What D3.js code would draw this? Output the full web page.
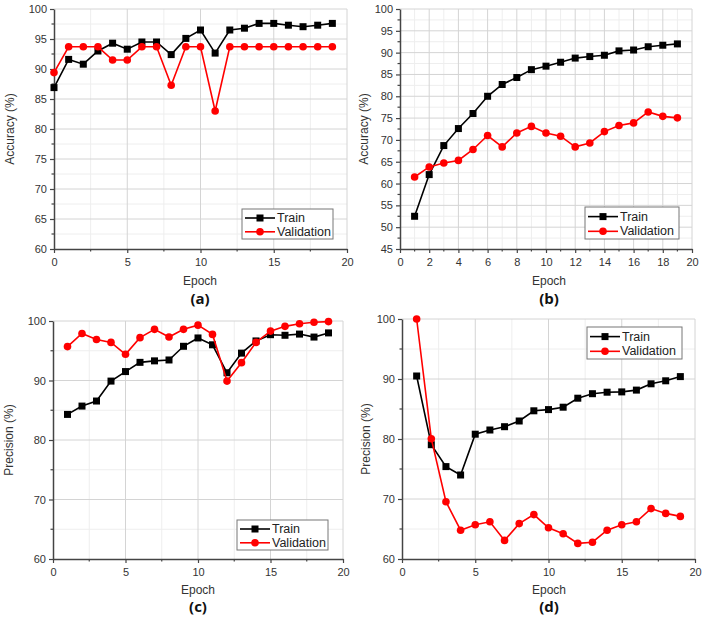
<!DOCTYPE html>
<html><head><meta charset="utf-8">
<script src="https://cdn.jsdelivr.net/npm/d3@7"></script>
<style>
body{margin:0;background:#fff}
text{font-family:"Liberation Sans",Arial,sans-serif}
</style>
</head><body>
<svg id="chart" width="704" height="618"></svg>
<script>
// ---------- data ----------
const epochsA = [0,1,2,3,4,5,6,7,8,9,10,11,12,13,14,15,16,17,18,19];
const trainAccA = [86.9,91.6,90.8,93.0,94.3,93.3,94.5,94.5,92.4,95.1,96.5,92.65,96.5,96.8,97.6,97.6,97.3,97.05,97.3,97.6];
const valAccA   = [89.4,93.7,93.7,93.7,91.5,91.5,93.7,93.7,87.3,93.7,93.7,83.0,93.7,93.7,93.7,93.7,93.7,93.7,93.7,93.7];

const epochsB = [1,2,3,4,5,6,7,8,9,10,11,12,13,14,15,16,17,18,19];
const trainAccB = [52.5,62.05,68.7,72.6,76.05,80.0,82.7,84.3,86.1,86.9,87.8,88.75,89.1,89.4,90.4,90.6,91.35,91.7,92.0];
const valAccB   = [61.5,63.8,64.7,65.3,67.8,71.0,68.4,71.6,73.1,71.6,70.85,68.4,69.3,71.9,73.3,73.9,76.4,75.4,75.05];

const epochsC = [1,2,3,4,5,6,7,8,9,10,11,12,13,14,15,16,17,18,19];
const trainPrecC = [84.3,85.7,86.55,89.9,91.5,93.05,93.3,93.45,95.75,97.15,96.0,91.3,94.6,96.65,97.7,97.6,97.8,97.3,98.0];
const valPrecC   = [95.7,97.9,96.9,96.4,94.4,97.2,98.6,97.3,98.6,99.3,97.75,89.9,93.0,96.4,98.3,99.1,99.55,99.8,99.9];

const epochsD = [1,2,3,4,5,6,7,8,9,10,11,12,13,14,15,16,17,18,19];
const trainPrecD = [90.5,79.05,75.4,74.0,80.8,81.5,82.05,83.0,84.7,84.9,85.3,86.8,87.55,87.8,87.85,88.15,89.2,89.7,90.4];
const valPrecD   = [100,80.05,69.55,64.8,65.7,66.2,63.1,65.9,67.4,65.2,64.2,62.6,62.8,64.8,65.7,66.2,68.4,67.6,67.1];

const seriesNames = ["Train","Validation"];
const yLabels = ["Accuracy (%)","Accuracy (%)","Precision (%)","Precision (%)"];
const xLabel = "Epoch";
const panelLabels = ["(a)","(b)","(c)","(d)"];

// ---------- layout ----------
const panels = [
  {x:epochsA, tr:trainAccA, va:valAccA, L:54, R:347, T:9, B:249, xd:[0,20], xs:5, xm:2.5, yd:[60,100], ys:5, ym:2.5,
   leg:{x:242,y:209,w:91,h:30}, ylx:10, ex:200, ey:281, py:298},
  {x:epochsB, tr:trainAccB, va:valAccB, L:400, R:692, T:9, B:249, xd:[0,20], xs:2, xm:1, yd:[45,100], ys:5, ym:2.5,
   leg:{x:585,y:207,w:94,h:32}, ylx:364, ex:549, ey:281, py:298},
  {x:epochsC, tr:trainPrecC, va:valPrecC, L:53, R:343, T:321, B:559, xd:[0,20], xs:5, xm:2.5, yd:[60,100], ys:10, ym:5,
   leg:{x:237,y:520,w:91,h:30}, ylx:9, ex:198, ey:590, py:606},
  {x:epochsD, tr:trainPrecD, va:valPrecD, L:402, R:695, T:319, B:559, xd:[0,20], xs:5, xm:2.5, yd:[60,100], ys:10, ym:5,
   leg:{x:587,y:327,w:95,h:32}, ylx:366, ex:549, ey:590, py:606}
];

const svg = d3.select("#chart");
const colors = ["#000000","#ff0000"];

panels.forEach((p,i)=>{
  const xs = d3.scaleLinear().domain(p.xd).range([p.L,p.R]);
  const ys = d3.scaleLinear().domain(p.yd).range([p.B,p.T]);
  const g = svg.append("g");

  const xMaj = d3.range(p.xd[0], p.xd[1]+1e-9, p.xs);
  const xMin = d3.range(p.xd[0], p.xd[1]+1e-9, p.xm).filter(v=>!xMaj.some(m=>Math.abs(m-v)<1e-9));
  const yMaj = d3.range(p.yd[0], p.yd[1]+1e-9, p.ys);
  const yMin = d3.range(p.yd[0], p.yd[1]+1e-9, p.ym).filter(v=>!yMaj.some(m=>Math.abs(m-v)<1e-9));

  // minor grid
  g.selectAll(".gmx").data(xMin).join("line").attr("x1",d=>xs(d)).attr("x2",d=>xs(d)).attr("y1",p.T).attr("y2",p.B)
    .attr("stroke","#eeeeee").attr("stroke-width",1);
  g.selectAll(".gmy").data(yMin).join("line").attr("y1",d=>ys(d)).attr("y2",d=>ys(d)).attr("x1",p.L).attr("x2",p.R)
    .attr("stroke","#eeeeee").attr("stroke-width",1);
  // major grid
  g.selectAll(".gMx").data(xMaj.filter(v=>v>p.xd[0])).join("line").attr("x1",d=>xs(d)).attr("x2",d=>xs(d)).attr("y1",p.T).attr("y2",p.B)
    .attr("stroke","#d4d4d4").attr("stroke-width",1);
  g.selectAll(".gMy").data(yMaj.filter(v=>v>p.yd[0])).join("line").attr("y1",d=>ys(d)).attr("y2",d=>ys(d)).attr("x1",p.L).attr("x2",p.R)
    .attr("stroke","#d4d4d4").attr("stroke-width",1);

  // axes
  const xa = g.append("g").attr("transform",`translate(0,${p.B})`)
    .call(d3.axisBottom(xs).tickValues(xMaj).tickFormat(d3.format("d")).tickSize(4).tickSizeOuter(0));
  const ya = g.append("g").attr("transform",`translate(${p.L},0)`)
    .call(d3.axisLeft(ys).tickValues(yMaj).tickFormat(d3.format("d")).tickSize(4).tickSizeOuter(0));
  [xa,ya].forEach(a=>{
    a.select(".domain").attr("stroke","#444").attr("stroke-width",1.5);
    a.selectAll(".tick line").attr("stroke","#444").attr("stroke-width",1.2);
    a.selectAll(".tick text").attr("fill","#333").style("font-size","11px").style("font-family","'Liberation Sans',Arial,sans-serif");
  });
  xa.selectAll(".tick text").attr("dy","0.9em");
  // minor ticks
  g.selectAll(".mtx").data(xMin).join("line").attr("x1",d=>xs(d)).attr("x2",d=>xs(d)).attr("y1",p.B).attr("y2",p.B+2.5)
    .attr("stroke","#444").attr("stroke-width",1.2);
  g.selectAll(".mty").data(yMin).join("line").attr("y1",d=>ys(d)).attr("y2",d=>ys(d)).attr("x1",p.L-2.5).attr("x2",p.L)
    .attr("stroke","#444").attr("stroke-width",1.2);

  // labels
  g.append("text").attr("transform",`translate(${p.ylx},${(p.T+p.B)/2}) rotate(-90)`).attr("text-anchor","middle")
    .attr("dominant-baseline","central").attr("fill","#333").style("font-size","12px").text(yLabels[i]);
  g.append("text").attr("x",p.ex).attr("y",p.ey).attr("text-anchor","middle").attr("dominant-baseline","central")
    .attr("fill","#333").style("font-size","12px").text(xLabel);
  g.append("text").attr("x",p.ex).attr("y",p.py).attr("text-anchor","middle").attr("dominant-baseline","central")
    .attr("fill","#111").style("font-size","15px").style("font-weight","bold")
    .style("font-family","'Open Sans','Liberation Sans',sans-serif").text(panelLabels[i]);

  // series
  const series = [p.tr, p.va];
  series.forEach((vals,si)=>{
    const pts = p.x.map((e,k)=>[e, vals[k]]);
    g.append("path").datum(pts).attr("fill","none").attr("stroke",colors[si]).attr("stroke-width",1.6)
      .attr("d", d3.line().x(d=>xs(d[0])).y(d=>ys(d[1])));
    if(si===0){
      g.selectAll(null).data(pts).join("rect").attr("x",d=>xs(d[0])-3.5).attr("y",d=>ys(d[1])-3.5)
        .attr("width",7).attr("height",7).attr("fill",colors[si]);
    } else {
      g.selectAll(null).data(pts).join("circle").attr("cx",d=>xs(d[0])).attr("cy",d=>ys(d[1]))
        .attr("r",3.8).attr("fill",colors[si]);
    }
  });

  // legend
  const lg = g.append("g");
  lg.append("rect").attr("x",p.leg.x).attr("y",p.leg.y).attr("width",p.leg.w).attr("height",p.leg.h)
    .attr("fill","#fff").attr("stroke","#777").attr("stroke-width",1);
  seriesNames.forEach((n,si)=>{
    const cy = p.leg.y + p.leg.h*(si===0?0.3:0.76);
    const x0 = p.leg.x+3, x1 = p.leg.x+33;
    lg.append("line").attr("x1",x0).attr("x2",x1).attr("y1",cy).attr("y2",cy).attr("stroke",colors[si]).attr("stroke-width",1.6);
    const mx=(x0+x1)/2;
    if(si===0) lg.append("rect").attr("x",mx-3.5).attr("y",cy-3.5).attr("width",7).attr("height",7).attr("fill",colors[si]);
    else lg.append("circle").attr("cx",mx).attr("cy",cy).attr("r",3.8).attr("fill",colors[si]);
    lg.append("text").attr("x",x1+2).attr("y",cy).attr("dominant-baseline","central").attr("fill","#222")
      .style("font-size","12.5px").text(n);
  });
});
</script>
</body></html>
